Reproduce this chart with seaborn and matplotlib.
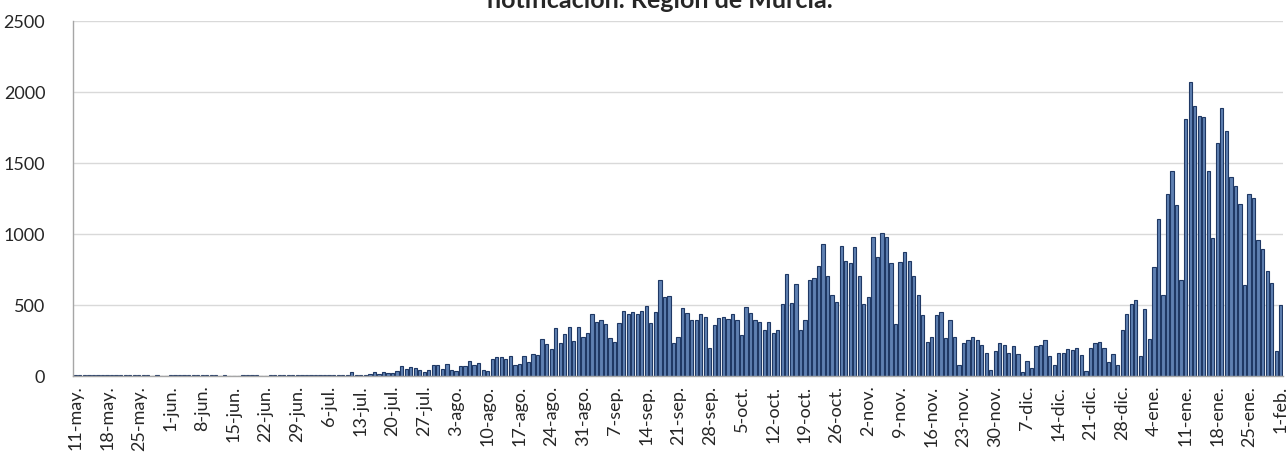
import pandas as pd
import matplotlib.pyplot as plt
import seaborn as sns

sns.set_style("white")
plt.rcParams["font.family"] = ["Lato", "DejaVu Sans"]

# casos diarios por fecha de notificacion, 11-may-2020 a 1-feb-2021
mayo = [5, 6, 8, 5, 7, 4, 6, 8, 5, 6, 7, 5, 8, 6, 4, 6, 5, 3, 4, 0, 0]
junio = [4, 6, 5, 7, 6, 8, 5, 6, 4, 7, 5, 3, 4, 0, 0,
         3, 5, 6, 4, 5, 3, 0, 5, 6, 4, 7, 5, 6, 4, 8]
julio = [6, 5, 7, 6, 8, 5, 9, 7, 6, 8, 25, 8, 6, 10,
         15, 25, 14, 28, 20, 19, 35, 68, 52, 61, 54, 45, 26, 45, 77, 77, 52]
agosto = [87, 42, 35, 68, 68, 103, 77, 94, 42, 35, 122, 131, 131, 122, 138, 77,
          87, 138, 96, 155, 146, 260, 225, 190, 338, 235, 293, 347, 244, 347, 277]
septiembre = [303, 434, 383, 392, 364, 268, 242, 376, 460, 434, 453, 434, 460, 495, 376,
              453, 678, 556, 566, 235, 277, 479, 444, 392, 392, 434, 418, 200, 357, 408]
octubre = [418, 399, 434, 392, 286, 488, 444, 392, 383, 322, 383, 303, 322, 507, 717, 514,
           646, 323, 394, 674, 691, 778, 929, 707, 568, 523, 917, 813, 797, 910, 707]
noviembre = [507, 559, 979, 839, 1007, 979, 797, 365, 804, 875, 813, 707, 568, 427, 243,
             278, 427, 453, 271, 391, 278, 78, 236, 252, 278, 252, 217, 165, 42, 174]
diciembre = [236, 217, 165, 210, 156, 26, 104, 59, 210, 217, 251, 138, 77, 164, 164, 188,
             181, 200, 148, 35, 200, 235, 242, 200, 96, 155, 77, 324, 437, 505, 533]
enero = [141, 472, 260, 767, 1105, 568, 1281, 1446, 1202, 674, 1812, 2072, 1899, 1831, 1821, 1446,
         974, 1638, 1889, 1725, 1404, 1340, 1211, 643, 1281, 1256, 958, 897, 739, 652, 176]
febrero = [500]

casos = mayo + junio + julio + agosto + septiembre + octubre + noviembre + diciembre + enero + febrero

fechas = pd.date_range("2020-05-11", "2021-02-01", freq="D")
meses = {1: "ene", 2: "feb", 5: "may", 6: "jun", 7: "jul", 8: "ago",
         9: "sep", 10: "oct", 11: "nov", 12: "dic"}
etiquetas = [f"{d.day}-{meses[d.month]}." for d in fechas]

df = pd.DataFrame({"fecha": etiquetas, "casos": casos})

fig, ax = plt.subplots(figsize=(12.86, 4.57), dpi=100)
fig.subplots_adjust(left=0.0568, right=0.9977, bottom=0.1772, top=0.954)

sns.barplot(data=df, x="fecha", y="casos", color="#5f80b2", edgecolor="#1f3864",
            linewidth=0.8, width=0.72, saturation=1, ax=ax)

# etiquetas semanales
pos = list(range(0, len(etiquetas), 7))
ax.set_xticks(pos)
ax.set_xticklabels([etiquetas[i] for i in pos], rotation=90, fontsize=13)
ax.set_xticks([p - 0.5 for p in pos], minor=True)
ax.tick_params(axis="x", which="major", length=0, pad=7)
ax.tick_params(axis="x", which="minor", length=5, color="#a6a6a6", width=1)

ax.set_xlim(-0.5, len(etiquetas) - 0.5)
ax.set_ylim(0, 2500)
ax.set_yticks(range(0, 2501, 500))
ax.tick_params(axis="y", length=0, pad=20, labelsize=13)
ax.grid(axis="y", color="#d9d9d9", linewidth=1)
ax.set_axisbelow(True)
ax.set_xlabel("")
ax.set_ylabel("")

for s in ["top", "right"]:
    ax.spines[s].set_visible(False)
for s in ["left", "bottom"]:
    ax.spines[s].set_color("#a6a6a6")
    ax.spines[s].set_linewidth(1)

fig.text(0.513, 1 - 8 / 457, "notificación. Región de Murcia.", ha="center",
         va="baseline", fontsize=18, fontweight="bold")

fig.savefig("out.png", dpi=100)
